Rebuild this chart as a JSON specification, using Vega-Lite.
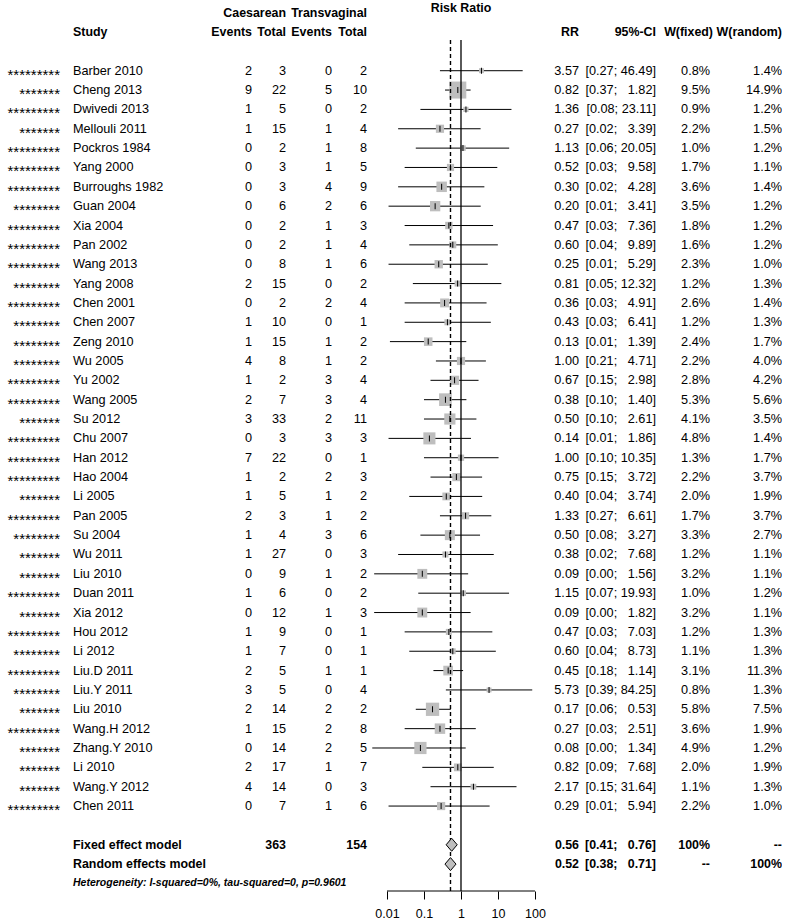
{
  "$schema": "https://vega.github.io/schema/vega-lite/v6.json",
  "padding": 0,
  "background": "white",
  "spacing": 0,
  "bounds": "flush",
  "config": {
    "view": {"stroke": null},
    "text": {"font": "Liberation Sans", "fontSize": 12.7, "color": "black"}
  },
  "datasets": {
    "studies": [
      {"row":0,"stars":"*********","study":"Barber 2010","eC":2,"nC":3,"eT":0,"nT":2,"rr":3.57,"lo":0.27,"hi":46.49,"ci":"[0.27; 46.49]","w":0.8,"wf":"0.8%","wr":"1.4%"},
      {"row":1,"stars":"*******","study":"Cheng 2013","eC":9,"nC":22,"eT":5,"nT":10,"rr":0.82,"lo":0.37,"hi":1.82,"ci":"[0.37; \u20071.82]","w":9.5,"wf":"9.5%","wr":"14.9%"},
      {"row":2,"stars":"*********","study":"Dwivedi 2013","eC":1,"nC":5,"eT":0,"nT":2,"rr":1.36,"lo":0.08,"hi":23.11,"ci":"[0.08; 23.11]","w":0.9,"wf":"0.9%","wr":"1.2%"},
      {"row":3,"stars":"*******","study":"Mellouli 2011","eC":1,"nC":15,"eT":1,"nT":4,"rr":0.27,"lo":0.02,"hi":3.39,"ci":"[0.02; \u20073.39]","w":2.2,"wf":"2.2%","wr":"1.5%"},
      {"row":4,"stars":"*********","study":"Pockros 1984","eC":0,"nC":2,"eT":1,"nT":8,"rr":1.13,"lo":0.06,"hi":20.05,"ci":"[0.06; 20.05]","w":1.0,"wf":"1.0%","wr":"1.2%"},
      {"row":5,"stars":"*********","study":"Yang 2000","eC":0,"nC":3,"eT":1,"nT":5,"rr":0.52,"lo":0.03,"hi":9.58,"ci":"[0.03; \u20079.58]","w":1.7,"wf":"1.7%","wr":"1.1%"},
      {"row":6,"stars":"*********","study":"Burroughs 1982","eC":0,"nC":3,"eT":4,"nT":9,"rr":0.30,"lo":0.02,"hi":4.28,"ci":"[0.02; \u20074.28]","w":3.6,"wf":"3.6%","wr":"1.4%"},
      {"row":7,"stars":"********","study":"Guan 2004","eC":0,"nC":6,"eT":2,"nT":6,"rr":0.20,"lo":0.011,"hi":3.41,"ci":"[0.01; \u20073.41]","w":3.5,"wf":"3.5%","wr":"1.2%"},
      {"row":8,"stars":"*********","study":"Xia 2004","eC":0,"nC":2,"eT":1,"nT":3,"rr":0.47,"lo":0.03,"hi":7.36,"ci":"[0.03; \u20077.36]","w":1.8,"wf":"1.8%","wr":"1.2%"},
      {"row":9,"stars":"*********","study":"Pan 2002","eC":0,"nC":2,"eT":1,"nT":4,"rr":0.60,"lo":0.04,"hi":9.89,"ci":"[0.04; \u20079.89]","w":1.6,"wf":"1.6%","wr":"1.2%"},
      {"row":10,"stars":"*********","study":"Wang 2013","eC":0,"nC":8,"eT":1,"nT":6,"rr":0.25,"lo":0.011,"hi":5.29,"ci":"[0.01; \u20075.29]","w":2.3,"wf":"2.3%","wr":"1.0%"},
      {"row":11,"stars":"********","study":"Yang 2008","eC":2,"nC":15,"eT":0,"nT":2,"rr":0.81,"lo":0.05,"hi":12.32,"ci":"[0.05; 12.32]","w":1.2,"wf":"1.2%","wr":"1.3%"},
      {"row":12,"stars":"*********","study":"Chen 2001","eC":0,"nC":2,"eT":2,"nT":4,"rr":0.36,"lo":0.03,"hi":4.91,"ci":"[0.03; \u20074.91]","w":2.6,"wf":"2.6%","wr":"1.4%"},
      {"row":13,"stars":"********","study":"Chen 2007","eC":1,"nC":10,"eT":0,"nT":1,"rr":0.43,"lo":0.03,"hi":6.41,"ci":"[0.03; \u20076.41]","w":1.2,"wf":"1.2%","wr":"1.3%"},
      {"row":14,"stars":"********","study":"Zeng 2010","eC":1,"nC":15,"eT":1,"nT":2,"rr":0.13,"lo":0.012,"hi":1.39,"ci":"[0.01; \u20071.39]","w":2.4,"wf":"2.4%","wr":"1.7%"},
      {"row":15,"stars":"********","study":"Wu 2005","eC":4,"nC":8,"eT":1,"nT":2,"rr":1.00,"lo":0.21,"hi":4.71,"ci":"[0.21; \u20074.71]","w":2.2,"wf":"2.2%","wr":"4.0%"},
      {"row":16,"stars":"*********","study":"Yu 2002","eC":1,"nC":2,"eT":3,"nT":4,"rr":0.67,"lo":0.15,"hi":2.98,"ci":"[0.15; \u20072.98]","w":2.8,"wf":"2.8%","wr":"4.2%"},
      {"row":17,"stars":"*********","study":"Wang 2005","eC":2,"nC":7,"eT":3,"nT":4,"rr":0.38,"lo":0.10,"hi":1.40,"ci":"[0.10; \u20071.40]","w":5.3,"wf":"5.3%","wr":"5.6%"},
      {"row":18,"stars":"*******","study":"Su 2012","eC":3,"nC":33,"eT":2,"nT":11,"rr":0.50,"lo":0.10,"hi":2.61,"ci":"[0.10; \u20072.61]","w":4.1,"wf":"4.1%","wr":"3.5%"},
      {"row":19,"stars":"*********","study":"Chu 2007","eC":0,"nC":3,"eT":3,"nT":3,"rr":0.14,"lo":0.011,"hi":1.86,"ci":"[0.01; \u20071.86]","w":4.8,"wf":"4.8%","wr":"1.4%"},
      {"row":20,"stars":"*********","study":"Han 2012","eC":7,"nC":22,"eT":0,"nT":1,"rr":1.00,"lo":0.10,"hi":10.35,"ci":"[0.10; 10.35]","w":1.3,"wf":"1.3%","wr":"1.7%"},
      {"row":21,"stars":"*********","study":"Hao 2004","eC":1,"nC":2,"eT":2,"nT":3,"rr":0.75,"lo":0.15,"hi":3.72,"ci":"[0.15; \u20073.72]","w":2.2,"wf":"2.2%","wr":"3.7%"},
      {"row":22,"stars":"*******","study":"Li 2005","eC":1,"nC":5,"eT":1,"nT":2,"rr":0.40,"lo":0.04,"hi":3.74,"ci":"[0.04; \u20073.74]","w":2.0,"wf":"2.0%","wr":"1.9%"},
      {"row":23,"stars":"*********","study":"Pan 2005","eC":2,"nC":3,"eT":1,"nT":2,"rr":1.33,"lo":0.27,"hi":6.61,"ci":"[0.27; \u20076.61]","w":1.7,"wf":"1.7%","wr":"3.7%"},
      {"row":24,"stars":"********","study":"Su 2004","eC":1,"nC":4,"eT":3,"nT":6,"rr":0.50,"lo":0.08,"hi":3.27,"ci":"[0.08; \u20073.27]","w":3.3,"wf":"3.3%","wr":"2.7%"},
      {"row":25,"stars":"*******","study":"Wu 2011","eC":1,"nC":27,"eT":0,"nT":3,"rr":0.38,"lo":0.02,"hi":7.68,"ci":"[0.02; \u20077.68]","w":1.2,"wf":"1.2%","wr":"1.1%"},
      {"row":26,"stars":"*******","study":"Liu 2010","eC":0,"nC":9,"eT":1,"nT":2,"rr":0.09,"lo":0.0045,"hi":1.56,"ci":"[0.00; \u20071.56]","w":3.2,"wf":"3.2%","wr":"1.1%"},
      {"row":27,"stars":"*********","study":"Duan 2011","eC":1,"nC":6,"eT":0,"nT":2,"rr":1.15,"lo":0.07,"hi":19.93,"ci":"[0.07; 19.93]","w":1.0,"wf":"1.0%","wr":"1.2%"},
      {"row":28,"stars":"*******","study":"Xia 2012","eC":0,"nC":12,"eT":1,"nT":3,"rr":0.09,"lo":0.0045,"hi":1.82,"ci":"[0.00; \u20071.82]","w":3.2,"wf":"3.2%","wr":"1.1%"},
      {"row":29,"stars":"*********","study":"Hou 2012","eC":1,"nC":9,"eT":0,"nT":1,"rr":0.47,"lo":0.03,"hi":7.03,"ci":"[0.03; \u20077.03]","w":1.2,"wf":"1.2%","wr":"1.3%"},
      {"row":30,"stars":"********","study":"Li 2012","eC":1,"nC":7,"eT":0,"nT":1,"rr":0.60,"lo":0.04,"hi":8.73,"ci":"[0.04; \u20078.73]","w":1.1,"wf":"1.1%","wr":"1.3%"},
      {"row":31,"stars":"*********","study":"Liu.D 2011","eC":2,"nC":5,"eT":1,"nT":1,"rr":0.45,"lo":0.18,"hi":1.14,"ci":"[0.18; \u20071.14]","w":3.1,"wf":"3.1%","wr":"11.3%"},
      {"row":32,"stars":"********","study":"Liu.Y 2011","eC":3,"nC":5,"eT":0,"nT":4,"rr":5.73,"lo":0.39,"hi":84.25,"ci":"[0.39; 84.25]","w":0.8,"wf":"0.8%","wr":"1.3%"},
      {"row":33,"stars":"*******","study":"Liu 2010","eC":2,"nC":14,"eT":2,"nT":2,"rr":0.17,"lo":0.06,"hi":0.53,"ci":"[0.06; \u20070.53]","w":5.8,"wf":"5.8%","wr":"7.5%"},
      {"row":34,"stars":"*********","study":"Wang.H 2012","eC":1,"nC":15,"eT":2,"nT":8,"rr":0.27,"lo":0.03,"hi":2.51,"ci":"[0.03; \u20072.51]","w":3.6,"wf":"3.6%","wr":"1.9%"},
      {"row":35,"stars":"*******","study":"Zhang.Y 2010","eC":0,"nC":14,"eT":2,"nT":5,"rr":0.08,"lo":0.004,"hi":1.34,"ci":"[0.00; \u20071.34]","w":4.9,"wf":"4.9%","wr":"1.2%"},
      {"row":36,"stars":"*******","study":"Li 2010","eC":2,"nC":17,"eT":1,"nT":7,"rr":0.82,"lo":0.09,"hi":7.68,"ci":"[0.09; \u20077.68]","w":2.0,"wf":"2.0%","wr":"1.9%"},
      {"row":37,"stars":"*******","study":"Wang.Y 2012","eC":4,"nC":14,"eT":0,"nT":3,"rr":2.17,"lo":0.15,"hi":31.64,"ci":"[0.15; 31.64]","w":1.1,"wf":"1.1%","wr":"1.3%"},
      {"row":38,"stars":"*********","study":"Chen 2011","eC":0,"nC":7,"eT":1,"nT":6,"rr":0.29,"lo":0.011,"hi":5.94,"ci":"[0.01; \u20075.94]","w":2.2,"wf":"2.2%","wr":"1.0%"}
    ],
    "summary": [
      {"row":40,"model":"fixed","label":"Fixed effect model","nC":"363","nT":"154","rr":0.56,"lo":0.41,"hi":0.76,"ci":"[0.41; \u20070.76]","wf":"100%","wr":"--"},
      {"row":41,"model":"random","label":"Random effects model","rr":0.52,"lo":0.38,"hi":0.71,"ci":"[0.38; \u20070.71]","wf":"--","wr":"100%"}
    ],
    "notes": [
      {"row":42,"label":"Heterogeneity: I-squared=0%, tau-squared=0, p=0.9601"}
    ],
    "headers": [
      {"col":"study","row":-2,"label":"Study"},
      {"col":"nC","row":-3,"label":"Caesarean"},
      {"col":"eC","row":-2,"label":"Events"},
      {"col":"nC","row":-2,"label":"Total"},
      {"col":"eT","row":-2,"label":"Events"},
      {"col":"nT","row":-3,"label":"Transvaginal"},
      {"col":"nT","row":-2,"label":"Total"},
      {"col":"forest","row":-3,"label":"Risk Ratio"},
      {"col":"rr","row":-2,"label":"RR"},
      {"col":"ci","row":-2,"label":"95%-CI"},
      {"col":"wf","row":-2,"label":"W(fixed)"},
      {"col":"wr","row":-2,"label":"W(random)"}
    ],
    "refs": [
      {"ref":1,"from":0.01,"to":100}
    ]
  },
  "hconcat": [
    {
      "width": 60, "height": 891,
      "data": {"name": "studies"},
      "mark": {"type": "text", "align": "right", "baseline": "middle", "font": "Liberation Sans", "fontSize": 15, "dy": 4, "color": "black", "fill": "black"},
      "encoding": {
        "x": {"value": "width"},
        "y": {"field": "row", "type": "quantitative", "scale": {"domain": [-3.654, 42.39], "reverse": true, "zero": false, "nice": false}, "axis": null},
        "text": {"field": "stars", "type": "nominal"}
      }
    },
    {
      "width": 153, "height": 891,
      "layer": [
        {
          "data": {"name": "studies"},
          "mark": {"type": "text", "align": "left", "baseline": "middle", "dx": 13},
          "encoding": {
            "x": {"value": 0},
            "y": {"field": "row", "type": "quantitative", "scale": {"domain": [-3.654, 42.39], "reverse": true, "zero": false, "nice": false}, "axis": null},
            "text": {"field": "study", "type": "nominal"}
          }
        },
        {
          "data": {"name": "summary"},
          "mark": {"type": "text", "align": "left", "baseline": "middle", "dx": 13, "fontWeight": "bold", "fontSize": 12.4},
          "encoding": {
            "x": {"value": 0},
            "y": {"field": "row", "type": "quantitative", "scale": {"domain": [-3.654, 42.39], "reverse": true, "zero": false, "nice": false}, "axis": null},
            "text": {"field": "label", "type": "nominal"}
          }
        },
        {
          "data": {"name": "notes"},
          "mark": {"type": "text", "align": "left", "baseline": "middle", "dx": 13, "fontWeight": "bold", "fontStyle": "italic", "fontSize": 10.5},
          "encoding": {
            "x": {"value": 0},
            "y": {"field": "row", "type": "quantitative", "scale": {"domain": [-3.654, 42.39], "reverse": true, "zero": false, "nice": false}, "axis": null},
            "text": {"field": "label", "type": "nominal"}
          }
        },
        {
          "data": {"name": "headers"},
          "transform": [{"filter": "datum.col === 'study'"}],
          "mark": {"type": "text", "align": "left", "baseline": "middle", "dx": 13, "fontWeight": "bold", "fontSize": 12.4},
          "encoding": {
            "x": {"value": 0},
            "y": {"field": "row", "type": "quantitative", "scale": {"domain": [-3.654, 42.39], "reverse": true, "zero": false, "nice": false}, "axis": null},
            "text": {"field": "label", "type": "nominal"}
          }
        }
      ]
    },
    {
      "width": 39, "height": 891,
      "layer": [
        {
          "data": {"name": "studies"},
          "mark": {"type": "text", "align": "right", "baseline": "middle"},
          "encoding": {
            "x": {"value": "width"},
            "y": {"field": "row", "type": "quantitative", "scale": {"domain": [-3.654, 42.39], "reverse": true, "zero": false, "nice": false}, "axis": null},
            "text": {"field": "eC", "type": "nominal"}
          }
        },
        {
          "data": {"name": "headers"},
          "transform": [{"filter": "datum.col === 'eC'"}],
          "mark": {"type": "text", "align": "right", "baseline": "middle", "fontWeight": "bold", "fontSize": 12.4},
          "encoding": {
            "x": {"value": "width"},
            "y": {"field": "row", "type": "quantitative", "scale": {"domain": [-3.654, 42.39], "reverse": true, "zero": false, "nice": false}, "axis": null},
            "text": {"field": "label", "type": "nominal"}
          }
        }
      ]
    },
    {
      "width": 34, "height": 891,
      "layer": [
        {
          "data": {"name": "studies"},
          "mark": {"type": "text", "align": "right", "baseline": "middle"},
          "encoding": {
            "x": {"value": "width"},
            "y": {"field": "row", "type": "quantitative", "scale": {"domain": [-3.654, 42.39], "reverse": true, "zero": false, "nice": false}, "axis": null},
            "text": {"field": "nC", "type": "nominal"}
          }
        },
        {
          "data": {"name": "summary"},
          "transform": [{"filter": "isValid(datum.nC)"}],
          "mark": {"type": "text", "align": "right", "baseline": "middle", "fontWeight": "bold", "fontSize": 12.4},
          "encoding": {
            "x": {"value": "width"},
            "y": {"field": "row", "type": "quantitative", "scale": {"domain": [-3.654, 42.39], "reverse": true, "zero": false, "nice": false}, "axis": null},
            "text": {"field": "nC", "type": "nominal"}
          }
        },
        {
          "data": {"name": "headers"},
          "transform": [{"filter": "datum.col === 'nC'"}],
          "mark": {"type": "text", "align": "right", "baseline": "middle", "fontWeight": "bold", "fontSize": 12.4},
          "encoding": {
            "x": {"value": "width"},
            "y": {"field": "row", "type": "quantitative", "scale": {"domain": [-3.654, 42.39], "reverse": true, "zero": false, "nice": false}, "axis": null},
            "text": {"field": "label", "type": "nominal"}
          }
        }
      ]
    },
    {
      "width": 46, "height": 891,
      "layer": [
        {
          "data": {"name": "studies"},
          "mark": {"type": "text", "align": "right", "baseline": "middle"},
          "encoding": {
            "x": {"value": "width"},
            "y": {"field": "row", "type": "quantitative", "scale": {"domain": [-3.654, 42.39], "reverse": true, "zero": false, "nice": false}, "axis": null},
            "text": {"field": "eT", "type": "nominal"}
          }
        },
        {
          "data": {"name": "headers"},
          "transform": [{"filter": "datum.col === 'eT'"}],
          "mark": {"type": "text", "align": "right", "baseline": "middle", "fontWeight": "bold", "fontSize": 12.4},
          "encoding": {
            "x": {"value": "width"},
            "y": {"field": "row", "type": "quantitative", "scale": {"domain": [-3.654, 42.39], "reverse": true, "zero": false, "nice": false}, "axis": null},
            "text": {"field": "label", "type": "nominal"}
          }
        }
      ]
    },
    {
      "width": 35, "height": 891,
      "layer": [
        {
          "data": {"name": "studies"},
          "mark": {"type": "text", "align": "right", "baseline": "middle"},
          "encoding": {
            "x": {"value": "width"},
            "y": {"field": "row", "type": "quantitative", "scale": {"domain": [-3.654, 42.39], "reverse": true, "zero": false, "nice": false}, "axis": null},
            "text": {"field": "nT", "type": "nominal"}
          }
        },
        {
          "data": {"name": "summary"},
          "transform": [{"filter": "isValid(datum.nT)"}],
          "mark": {"type": "text", "align": "right", "baseline": "middle", "fontWeight": "bold", "fontSize": 12.4},
          "encoding": {
            "x": {"value": "width"},
            "y": {"field": "row", "type": "quantitative", "scale": {"domain": [-3.654, 42.39], "reverse": true, "zero": false, "nice": false}, "axis": null},
            "text": {"field": "nT", "type": "nominal"}
          }
        },
        {
          "data": {"name": "headers"},
          "transform": [{"filter": "datum.col === 'nT'"}],
          "mark": {"type": "text", "align": "right", "baseline": "middle", "fontWeight": "bold", "fontSize": 12.4},
          "encoding": {
            "x": {"value": "width"},
            "y": {"field": "row", "type": "quantitative", "scale": {"domain": [-3.654, 42.39], "reverse": true, "zero": false, "nice": false}, "axis": null},
            "text": {"field": "label", "type": "nominal"}
          }
        }
      ]
    },
    {
      "width": 178, "height": 891,
      "layer": [
        {
          "data": {"name": "studies"},
          "mark": {"type": "rule", "color": "black", "strokeWidth": 1},
          "encoding": {
            "x": {"field": "lo", "type": "quantitative", "title": null, "scale": {"type": "log", "domain": [0.00288, 186.4], "nice": false, "zero": false},
                  "axis": {"title": null, "values": [0.01, 0.1, 1, 10, 100], "format": "~g", "domain": false, "grid": false, "tickColor": "black", "tickSize": 8, "tickWidth": 1, "labelFont": "Liberation Sans", "labelFontSize": 12.5, "labelColor": "black", "labelPadding": 8, "labelFlush": false, "labelOverlap": false}},
            "x2": {"field": "hi"},
            "y": {"field": "row", "type": "quantitative", "scale": {"domain": [-3.654, 42.39], "reverse": true, "zero": false, "nice": false}, "axis": null}
          }
        },
        {
          "data": {"name": "studies"},
          "mark": {"type": "point", "shape": "square", "filled": true, "color": "#BEBEBE", "opacity": 1, "strokeWidth": 0},
          "encoding": {
            "x": {"field": "rr", "type": "quantitative", "title": null, "scale": {"type": "log", "domain": [0.00288, 186.4], "nice": false, "zero": false}},
            "y": {"field": "row", "type": "quantitative", "scale": {"domain": [-3.654, 42.39], "reverse": true, "zero": false, "nice": false}, "axis": null},
            "size": {"field": "w", "type": "quantitative", "scale": {"type": "linear", "domain": [0, 9.5], "range": [0, 289], "zero": true}, "legend": null}
          }
        },
        {
          "data": {"name": "studies"},
          "mark": {"type": "tick", "orient": "vertical", "color": "black", "size": 6, "thickness": 1, "opacity": 1},
          "encoding": {
            "x": {"field": "rr", "type": "quantitative", "title": null, "scale": {"type": "log", "domain": [0.00288, 186.4], "nice": false, "zero": false}},
            "y": {"field": "row", "type": "quantitative", "scale": {"domain": [-3.654, 42.39], "reverse": true, "zero": false, "nice": false}, "axis": null}
          }
        },
        {
          "data": {"name": "refs"},
          "mark": {"type": "rule", "color": "black", "strokeWidth": 1.3},
          "encoding": {
            "x": {"field": "ref", "type": "quantitative", "title": null, "scale": {"type": "log", "domain": [0.00288, 186.4], "nice": false, "zero": false}},
            "y": {"datum": -1.59, "type": "quantitative", "scale": {"domain": [-3.654, 42.39], "reverse": true, "zero": false, "nice": false}, "axis": null},
            "y2": {"datum": 42.39}
          }
        },
        {
          "data": {"name": "summary"},
          "transform": [{"filter": "datum.model === 'random'"}],
          "mark": {"type": "rule", "color": "black", "strokeWidth": 1.4, "strokeDash": [4, 3]},
          "encoding": {
            "x": {"field": "rr", "type": "quantitative", "title": null, "scale": {"type": "log", "domain": [0.00288, 186.4], "nice": false, "zero": false}},
            "y": {"datum": -1.59, "type": "quantitative", "scale": {"domain": [-3.654, 42.39], "reverse": true, "zero": false, "nice": false}, "axis": null},
            "y2": {"datum": 42.39}
          }
        },
        {
          "data": {"name": "summary"},
          "mark": {"type": "point", "shape": "M-0.85,0L0,-1L0.85,0L0,1Z", "filled": true, "fill": "#BEBEBE", "stroke": "black", "strokeWidth": 1, "size": 169, "opacity": 1},
          "encoding": {
            "x": {"field": "rr", "type": "quantitative", "title": null, "scale": {"type": "log", "domain": [0.00288, 186.4], "nice": false, "zero": false}},
            "y": {"field": "row", "type": "quantitative", "scale": {"domain": [-3.654, 42.39], "reverse": true, "zero": false, "nice": false}, "axis": null}
          }
        },
        {
          "data": {"name": "refs"},
          "mark": {"type": "rule", "color": "black", "strokeWidth": 1},
          "encoding": {
            "x": {"field": "from", "type": "quantitative", "title": null, "scale": {"type": "log", "domain": [0.00288, 186.4], "nice": false, "zero": false}},
            "x2": {"field": "to"},
            "y": {"datum": 42.39, "type": "quantitative", "scale": {"domain": [-3.654, 42.39], "reverse": true, "zero": false, "nice": false}, "axis": null}
          }
        },
        {
          "data": {"name": "headers"},
          "transform": [{"filter": "datum.col === 'forest'"}],
          "mark": {"type": "text", "align": "center", "baseline": "middle", "fontWeight": "bold", "fontSize": 12.4, "dy": -5},
          "encoding": {
            "x": {"datum": 1, "type": "quantitative", "title": null, "scale": {"type": "log", "domain": [0.00288, 186.4], "nice": false, "zero": false}},
            "y": {"field": "row", "type": "quantitative", "scale": {"domain": [-3.654, 42.39], "reverse": true, "zero": false, "nice": false}, "axis": null},
            "text": {"field": "label", "type": "nominal"}
          }
        }
      ]
    },
    {
      "width": 34, "height": 891,
      "layer": [
        {
          "data": {"name": "studies"},
          "mark": {"type": "text", "align": "right", "baseline": "middle"},
          "encoding": {
            "x": {"value": "width"},
            "y": {"field": "row", "type": "quantitative", "scale": {"domain": [-3.654, 42.39], "reverse": true, "zero": false, "nice": false}, "axis": null},
            "text": {"field": "rr", "type": "quantitative", "format": ".2f"}
          }
        },
        {
          "data": {"name": "summary"},
          "mark": {"type": "text", "align": "right", "baseline": "middle", "fontWeight": "bold", "fontSize": 12.4},
          "encoding": {
            "x": {"value": "width"},
            "y": {"field": "row", "type": "quantitative", "scale": {"domain": [-3.654, 42.39], "reverse": true, "zero": false, "nice": false}, "axis": null},
            "text": {"field": "rr", "type": "quantitative", "format": ".2f"}
          }
        },
        {
          "data": {"name": "headers"},
          "transform": [{"filter": "datum.col === 'rr'"}],
          "mark": {"type": "text", "align": "right", "baseline": "middle", "fontWeight": "bold", "fontSize": 12.4},
          "encoding": {
            "x": {"value": "width"},
            "y": {"field": "row", "type": "quantitative", "scale": {"domain": [-3.654, 42.39], "reverse": true, "zero": false, "nice": false}, "axis": null},
            "text": {"field": "label", "type": "nominal"}
          }
        }
      ]
    },
    {
      "width": 77, "height": 891,
      "layer": [
        {
          "data": {"name": "studies"},
          "mark": {"type": "text", "align": "right", "baseline": "middle"},
          "encoding": {
            "x": {"value": "width"},
            "y": {"field": "row", "type": "quantitative", "scale": {"domain": [-3.654, 42.39], "reverse": true, "zero": false, "nice": false}, "axis": null},
            "text": {"field": "ci", "type": "nominal"}
          }
        },
        {
          "data": {"name": "summary"},
          "mark": {"type": "text", "align": "right", "baseline": "middle", "fontWeight": "bold", "fontSize": 12.4},
          "encoding": {
            "x": {"value": "width"},
            "y": {"field": "row", "type": "quantitative", "scale": {"domain": [-3.654, 42.39], "reverse": true, "zero": false, "nice": false}, "axis": null},
            "text": {"field": "ci", "type": "nominal"}
          }
        },
        {
          "data": {"name": "headers"},
          "transform": [{"filter": "datum.col === 'ci'"}],
          "mark": {"type": "text", "align": "right", "baseline": "middle", "fontWeight": "bold", "fontSize": 12.4},
          "encoding": {
            "x": {"value": "width"},
            "y": {"field": "row", "type": "quantitative", "scale": {"domain": [-3.654, 42.39], "reverse": true, "zero": false, "nice": false}, "axis": null},
            "text": {"field": "label", "type": "nominal"}
          }
        }
      ]
    },
    {
      "width": 54, "height": 891,
      "layer": [
        {
          "data": {"name": "studies"},
          "mark": {"type": "text", "align": "right", "baseline": "middle"},
          "encoding": {
            "x": {"value": "width"},
            "y": {"field": "row", "type": "quantitative", "scale": {"domain": [-3.654, 42.39], "reverse": true, "zero": false, "nice": false}, "axis": null},
            "text": {"field": "wf", "type": "nominal"}
          }
        },
        {
          "data": {"name": "summary"},
          "mark": {"type": "text", "align": "right", "baseline": "middle", "fontWeight": "bold", "fontSize": 12.4},
          "encoding": {
            "x": {"value": "width"},
            "y": {"field": "row", "type": "quantitative", "scale": {"domain": [-3.654, 42.39], "reverse": true, "zero": false, "nice": false}, "axis": null},
            "text": {"field": "wf", "type": "nominal"}
          }
        },
        {
          "data": {"name": "headers"},
          "transform": [{"filter": "datum.col === 'wf'"}],
          "mark": {"type": "text", "align": "right", "baseline": "middle", "fontWeight": "bold", "fontSize": 12.4, "dx": 3},
          "encoding": {
            "x": {"value": "width"},
            "y": {"field": "row", "type": "quantitative", "scale": {"domain": [-3.654, 42.39], "reverse": true, "zero": false, "nice": false}, "axis": null},
            "text": {"field": "label", "type": "nominal"}
          }
        }
      ]
    },
    {
      "width": 72, "height": 891,
      "layer": [
        {
          "data": {"name": "studies"},
          "mark": {"type": "text", "align": "right", "baseline": "middle"},
          "encoding": {
            "x": {"value": "width"},
            "y": {"field": "row", "type": "quantitative", "scale": {"domain": [-3.654, 42.39], "reverse": true, "zero": false, "nice": false}, "axis": null},
            "text": {"field": "wr", "type": "nominal"}
          }
        },
        {
          "data": {"name": "summary"},
          "mark": {"type": "text", "align": "right", "baseline": "middle", "fontWeight": "bold", "fontSize": 12.4},
          "encoding": {
            "x": {"value": "width"},
            "y": {"field": "row", "type": "quantitative", "scale": {"domain": [-3.654, 42.39], "reverse": true, "zero": false, "nice": false}, "axis": null},
            "text": {"field": "wr", "type": "nominal"}
          }
        },
        {
          "data": {"name": "headers"},
          "transform": [{"filter": "datum.col === 'wr'"}],
          "mark": {"type": "text", "align": "right", "baseline": "middle", "fontWeight": "bold", "fontSize": 12.4},
          "encoding": {
            "x": {"value": "width"},
            "y": {"field": "row", "type": "quantitative", "scale": {"domain": [-3.654, 42.39], "reverse": true, "zero": false, "nice": false}, "axis": null},
            "text": {"field": "label", "type": "nominal"}
          }
        }
      ]
    }
  ]
}
